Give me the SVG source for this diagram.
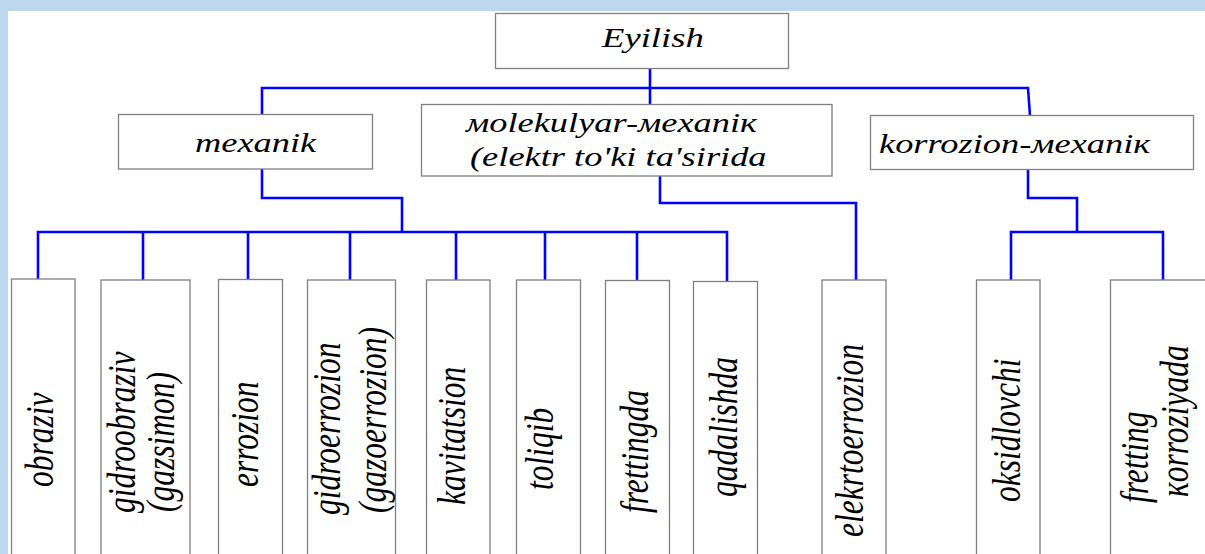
<svg xmlns="http://www.w3.org/2000/svg" width="1205" height="554" viewBox="0 0 1205 554">
<style>
.box{fill:#fff;stroke:#808080;stroke-width:1.3}
.ln{fill:none;stroke:#0000ff;stroke-width:2.6}
</style>
<rect x="0" y="0" width="1205" height="554" fill="#fff"/>
<rect x="0" y="0" width="1205" height="11" fill="#bdd7ee"/>
<rect x="0" y="0" width="8" height="554" fill="#bdd7ee"/>

<g id="connectors">
<path class="ln" d="M650,68 V104"/>
<path class="ln" d="M262,114 V88 H1028 L1030,116"/>
<path class="ln" d="M262,169 V198 H402 V232"/>
<path class="ln" d="M38,280 V232 H727 V282"/>
<path class="ln" d="M143,232 V280 M248,232 V280 M350,232 V280 M456,232 V280 M545,232 V280 M637,232 V281"/>
<path class="ln" d="M660,176 V203 H856 V280"/>
<path class="ln" d="M1028,169 V198 H1077 V232"/>
<path class="ln" d="M1011,280 V232 H1163 V280"/>
</g>

<g font-family="Liberation Serif, Times New Roman, serif" font-style="italic" fill="#000">
<g id="n-eyilish" font-size="28"><rect class="box" x="495.5" y="13.5" width="293" height="55"/>
<text transform="translate(602,46.5) scale(1.31,1)">Eyilish</text></g>

<g id="n-mexanik" font-size="28"><rect class="box" x="118.5" y="114.5" width="254" height="54.5"/>
<text transform="translate(195,152) scale(1.3,1)">mexanik</text></g>

<g id="n-molekulyar" font-size="28"><rect class="box" x="421.5" y="104.5" width="410.5" height="71.5"/>
<text transform="translate(466,131.5) scale(1.3,1)">мolekulyar-мexaniк</text>
<text transform="translate(470,165.5) scale(1.3,1)">(elektr to'ki ta'sirida</text></g>

<g id="n-korrozion" font-size="28"><rect class="box" x="870.5" y="115.5" width="323" height="54"/>
<text transform="translate(879,153) scale(1.3,1)">korrozion-мexaniк</text></g>

<g font-size="31.5">
<g id="n-obraziv"><rect class="box" x="11.5" y="279" width="63.5" height="290"/>
<text transform="translate(53,487) rotate(-90) scale(1,1.3)">obraziv</text></g>

<g id="n-gidroobraziv"><rect class="box" x="101" y="280" width="89" height="290"/>
<text transform="translate(135,513) rotate(-90) scale(1,1.3)">gidroobraziv</text>
<text transform="translate(174,512) rotate(-90) scale(1,1.3)">(gazsimon)</text></g>

<g id="n-errozion"><rect class="box" x="218.5" y="279.5" width="64" height="290"/>
<text transform="translate(258,487) rotate(-90) scale(1,1.3)">errozion</text></g>

<g id="n-gidroerrozion"><rect class="box" x="307.5" y="280" width="88" height="290"/>
<text transform="translate(340,515) rotate(-90) scale(1,1.3)">gidroerrozion</text>
<text transform="translate(386,513) rotate(-90) scale(1,1.3)">(gazoerrozion)</text></g>

<g id="n-kavitatsion"><rect class="box" x="426.5" y="280" width="63.5" height="290"/>
<text transform="translate(465,505) rotate(-90) scale(1,1.3)">kavitatsion</text></g>

<g id="n-toliqib"><rect class="box" x="516.5" y="280" width="64" height="290"/>
<text transform="translate(553,490) rotate(-90) scale(1,1.3)">toliqib</text></g>

<g id="n-frettingda"><rect class="box" x="605.5" y="280.5" width="64" height="290"/>
<text transform="translate(648,513) rotate(-90) scale(1,1.3)">frettingda</text></g>

<g id="n-qadalishda"><rect class="box" x="693.5" y="281.5" width="64" height="290"/>
<text transform="translate(737,497) rotate(-90) scale(1,1.3)">qadalishda</text></g>

<g id="n-elekrtoerrozion"><rect class="box" x="822" y="280" width="64" height="290"/>
<text transform="translate(863,537) rotate(-90) scale(1,1.3)">elekrtoerrozion</text></g>

<g id="n-oksidlovchi"><rect class="box" x="976.5" y="280" width="63.5" height="290"/>
<text transform="translate(1020,502) rotate(-90) scale(1,1.3)">oksidlovchi</text></g>

<g id="n-fretting-korroziyada"><rect class="box" x="1110.5" y="280" width="120" height="290"/>
<text transform="translate(1148,503) rotate(-90) scale(1,1.3)">fretting</text>
<text transform="translate(1188,497) rotate(-90) scale(1,1.3)">кorroziyada</text></g>
</g>
</g>
</svg>
